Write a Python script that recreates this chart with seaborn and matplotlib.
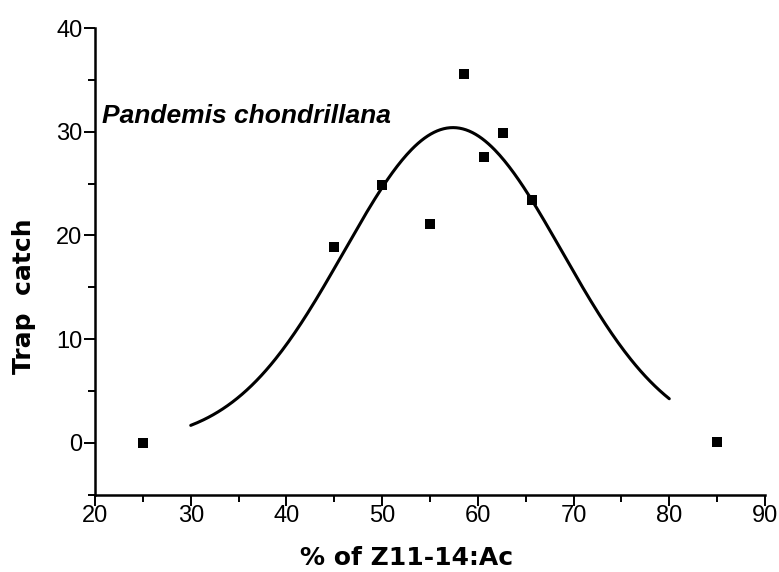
import numpy as np
import pandas as pd
import matplotlib
matplotlib.use("Agg")
import matplotlib.pyplot as plt
from matplotlib.ticker import MultipleLocator
import seaborn as sns

# Field trap catches vs. proportion of Z11-14:Ac in the blend
pct_z11 = [25, 45, 50, 55, 58.6, 60.6, 62.6, 65.7, 85]
trap_catch = [0, 18.9, 24.9, 21.1, 35.6, 27.6, 29.9, 23.4, 0.1]

# Fitted Gaussian response curve (y0 + A*exp(-(x-xc)^2 / (2 w^2)))
fit_y0 = 0.0
fit_amp = 30.4
fit_xc = 57.4
fit_w = 11.4
fit_range = (30, 80)

sns.set_theme(style="ticks")
plt.rcParams["font.family"] = ["Liberation Sans", "DejaVu Sans"]
plt.rcParams["text.color"] = "black"
plt.rcParams["axes.labelcolor"] = "black"

fig = plt.figure(figsize=(7.79, 5.72), dpi=100)
ax = fig.add_axes([0.122, 0.135, 0.860, 0.816])

pts = pd.DataFrame({"pct": pct_z11, "catch": trap_catch})
sns.scatterplot(data=pts, x="pct", y="catch", marker="s", s=62, color="black",
                edgecolor="black", linewidth=0, ax=ax, zorder=3)

xs = np.linspace(fit_range[0], fit_range[1], 300)
fit = pd.DataFrame({"pct": xs,
                    "catch": fit_y0 + fit_amp * np.exp(-(xs - fit_xc) ** 2 / (2 * fit_w ** 2))})
sns.lineplot(data=fit, x="pct", y="catch", color="black", linewidth=2.2, ax=ax)

ax.set_xlim(20, 90)
ax.set_ylim(-5, 40)
ax.xaxis.set_major_locator(MultipleLocator(10))
ax.xaxis.set_minor_locator(MultipleLocator(5))
ax.yaxis.set_minor_locator(MultipleLocator(5))
ax.set_yticks([0, 10, 20, 30, 40])

for side in ("top", "right"):
    ax.spines[side].set_visible(False)
for side in ("left", "bottom"):
    ax.spines[side].set_linewidth(1.8)
    ax.spines[side].set_color("black")

ax.tick_params(which="major", direction="out", length=8, width=1.4, colors="black",
               labelsize=17)
ax.tick_params(axis="y", which="major", pad=1)
ax.tick_params(axis="x", which="major", pad=-1)
ax.tick_params(which="minor", direction="out", length=5, width=1.4, colors="black")

ax.set_xlabel("")
ax.set_ylabel("")
fig.text(407 / 779, 0.012, "% of Z11-14:Ac", fontsize=18, fontweight="bold",
         family="DejaVu Sans", color="black", ha="center", va="baseline")
fig.text(0.031, 0.482, "Trap  catch", fontsize=18, fontweight="bold",
         family="DejaVu Sans", color="black", rotation=90, ha="center", va="center")

ax.text(20.7, 30.8, "Pandemis chondrillana", fontsize=19, fontweight="bold",
        fontstyle="italic", color="black", ha="left", va="baseline")

fig.savefig("out.png", dpi=100)
